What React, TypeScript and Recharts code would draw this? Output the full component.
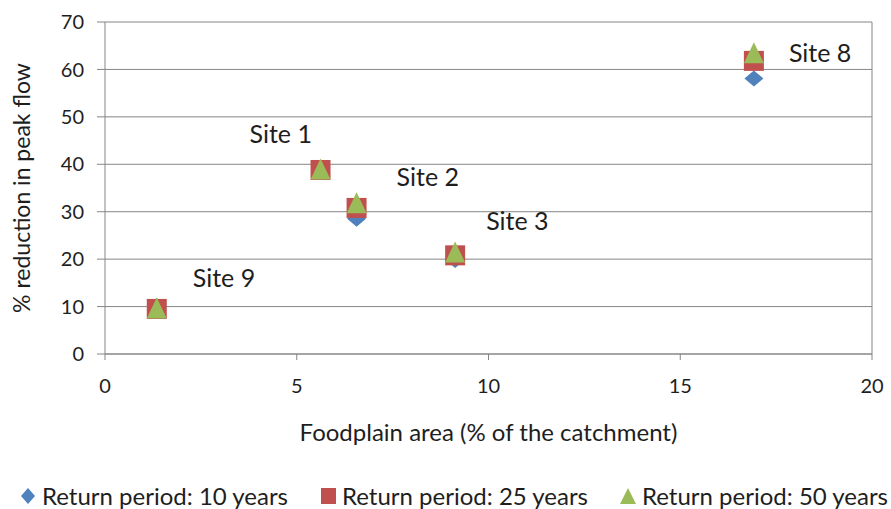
import React from 'react'
import {
  ScatterChart,
  Scatter,
  XAxis,
  YAxis,
  CartesianGrid,
  ReferenceLine,
  LabelList,
} from 'recharts'

// floodplain share of catchment (%) per site
const sites = ['Site 9', 'Site 1', 'Site 2', 'Site 3', 'Site 8']
const floodplainArea = [1.35, 5.62, 6.56, 9.13, 16.92]

// % reduction in peak flow per return period
const reduction10 = [10.1, 38.6, 28.5, 19.8, 58.1]
const reduction25 = [9.5, 38.8, 30.8, 20.8, 61.8]
const reduction50 = [9.6, 38.9, 31.8, 21.4, 63.4]

const xTicks = [0, 5, 10, 15, 20]
const yTicks = [0, 10, 20, 30, 40, 50, 60, 70]

const BLUE = '#4f81bd'
const RED = '#c0504d'
const GREEN = '#9bbb59'
const AXIS = '#868686'
const TEXT = '#1e1e1e'
const FONT = 'Lato, "Open Sans", sans-serif'

// where each site name sits relative to its marker (px)
const labelOffsets: Record<string, [number, number]> = {
  'Site 9': [36, -32],
  'Site 1': [-71, -37],
  'Site 2': [40, -32],
  'Site 3': [31, -35],
  'Site 8': [35, -9],
}

const toPoints = (ys: number[]) =>
  floodplainArea.map((x, i) => ({ x, y: ys[i], site: sites[i] }))

const Diamond = (props: any) => {
  const { cx, cy } = props
  return (
    <path
      d={`M${cx},${cy - 8} L${cx + 9.5},${cy} L${cx},${cy + 8} L${cx - 9.5},${cy} Z`}
      fill={BLUE}
    />
  )
}

const Square = (props: any) => {
  const { cx, cy } = props
  return <rect x={cx - 10} y={cy - 10} width={20} height={20} fill={RED} />
}

const Triangle = (props: any) => {
  const { cx, cy } = props
  return (
    <path
      d={`M${cx},${cy - 11} L${cx + 10},${cy + 10} L${cx - 10},${cy + 10} Z`}
      fill={GREEN}
    />
  )
}

const SiteLabel = (props: any) => {
  const { x, y, width, height, value } = props
  const cx = x + width / 2
  const cy = y + height / 2
  const [dx, dy] = labelOffsets[value] || [30, -30]
  return (
    <text
      x={cx + dx}
      y={cy + dy}
      dominantBaseline="central"
      fontSize={25}
      fontFamily={FONT}
      fill={TEXT}
    >
      {value}
    </text>
  )
}

const legendItems = [
  { name: 'Return period: 10 years', icon: 'diamond', color: BLUE },
  { name: 'Return period: 25 years', icon: 'square', color: RED },
  { name: 'Return period: 50 years', icon: 'triangle', color: GREEN },
]

function LegendIcon({ icon, color }: { icon: string; color: string }) {
  return (
    <svg width={16} height={18} style={{ marginRight: 6 }}>
      {icon === 'diamond' && <path d="M8,1 L15,9 L8,17 L1,9 Z" fill={color} />}
      {icon === 'square' && <rect x={1} y={1} width={15} height={16} fill={color} />}
      {icon === 'triangle' && <path d="M8,1 L16,17 L0,17 Z" fill={color} />}
    </svg>
  )
}

export default function App() {
  return (
    <div style={{ position: 'absolute', left: 0, top: 0, width: 891, height: 509, background: '#fff' }}>
      <ScatterChart
        width={891}
        height={509}
        margin={{ top: 22, right: 19, bottom: 0, left: 0 }}
      >
        <CartesianGrid horizontal vertical={false} stroke={AXIS} strokeWidth={1} />
        <XAxis
          type="number"
          dataKey="x"
          domain={[0, 20]}
          ticks={xTicks}
          height={155}
          stroke={AXIS}
          tickSize={6}
          tickMargin={19}
          tick={{ fill: TEXT, fontSize: 20, fontFamily: FONT }}
          label={{
            value: 'Foodplain area (% of the catchment)',
            position: 'insideTop',
            offset: 70,
            fill: TEXT,
            fontSize: 24,
            fontFamily: FONT,
          }}
        />
        <YAxis
          type="number"
          dataKey="y"
          domain={[0, 70]}
          ticks={yTicks}
          width={105}
          stroke={AXIS}
          tickSize={8}
          tickMargin={13}
          tick={{ fill: TEXT, fontSize: 20, fontFamily: FONT }}
          label={{
            value: '% reduction in peak flow',
            angle: -90,
            position: 'insideLeft',
            offset: 22,
            style: { textAnchor: 'middle' },
            fill: TEXT,
            fontSize: 23,
            fontFamily: FONT,
          }}
        />
        <ReferenceLine x={20} stroke={AXIS} />
        <Scatter
          name="Return period: 10 years"
          data={toPoints(reduction10)}
          shape={<Diamond />}
          isAnimationActive={false}
        />
        <Scatter
          name="Return period: 25 years"
          data={toPoints(reduction25)}
          shape={<Square />}
          isAnimationActive={false}
        >
          <LabelList dataKey="site" content={<SiteLabel />} />
        </Scatter>
        <Scatter
          name="Return period: 50 years"
          data={toPoints(reduction50)}
          shape={<Triangle />}
          isAnimationActive={false}
        />
      </ScatterChart>
      {legendItems.map((item, i) => (
        <div
          key={item.name}
          style={{
            position: 'absolute',
            top: 483,
            left: 20 + i * 300,
            height: 26,
            display: 'flex',
            alignItems: 'center',
            fontFamily: FONT,
            fontSize: 24,
            lineHeight: '26px',
            color: TEXT,
            whiteSpace: 'nowrap',
          }}
        >
          <LegendIcon icon={item.icon} color={item.color} />
          <span>{item.name}</span>
        </div>
      ))}
    </div>
  )
}
